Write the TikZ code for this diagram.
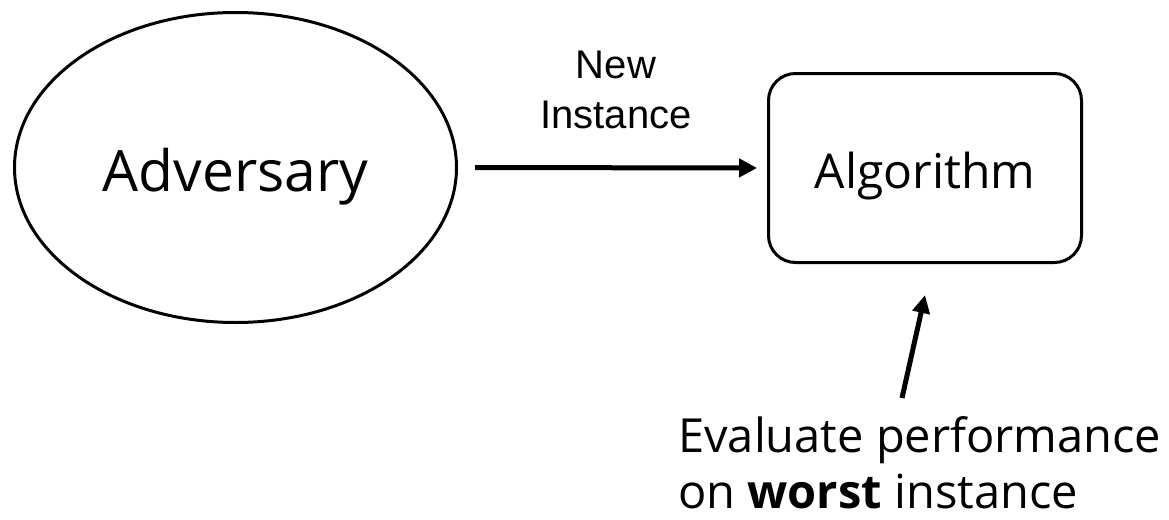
\documentclass[tikz,border=0pt]{standalone}
\usepackage{fontspec}
\setmainfont{Open Sans}
\newfontfamily\arialf{Liberation Sans}
\usetikzlibrary{shapes.geometric,arrows.meta}
\tikzset{
  conn/.style={line width=5pt,-{Triangle[length=18pt,width=18pt]}},
  advbox/.style={ellipse,draw,line width=3pt,inner sep=0pt,
    minimum width=442pt,minimum height=310pt,
    font=\fontsize{57}{68}\selectfont,text height=47pt,text depth=0pt},
  algbox/.style={draw,rounded corners=27pt,line width=3pt,inner sep=0pt,
    minimum width=313pt,minimum height=189pt,
    font=\fontsize{48}{58}\selectfont,text height=40pt,text depth=0pt},
  smalllabel/.style={font=\arialf\fontsize{40}{50}\selectfont,align=center,inner sep=0pt},
  biglabel/.style={font=\fontsize{47}{56}\selectfont,align=left,inner sep=0pt}
}
\begin{document}
\begin{tikzpicture}[x=1pt,y=-1pt]
\useasboundingbox[fill=white] (0,0) rectangle (1169,519);
\node[advbox] (adv) at (235.5,167.5) {Adversary};
\node[algbox] (alg) at (925,168) {Algorithm};
\draw[conn,shorten <=17pt,shorten >=10pt] (adv.east) -- (alg.west);
\node[smalllabel,anchor=base] (lbl) at (616,128) {New\\Instance};
\node[biglabel,anchor=base west] (ev) at (678,508) {Evaluate performance\\on \textbf{worst} instance};
\coordinate (evtail) at (902,398);
\coordinate (evtip) at (925,295);
\draw[conn,-{Triangle[length=18pt,width=17pt]}] (evtail) -- (evtip);
\end{tikzpicture}
\end{document}
